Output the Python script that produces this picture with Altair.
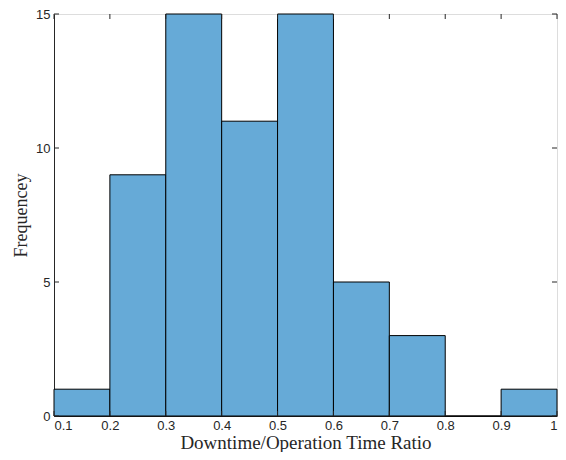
import altair as alt
import pandas as pd

bin_start = [0.1, 0.2, 0.3, 0.4, 0.5, 0.6, 0.7, 0.8, 0.9]
bin_end = [0.2, 0.3, 0.4, 0.5, 0.6, 0.7, 0.8, 0.9, 1.0]
counts = [1, 9, 15, 11, 15, 5, 3, 0, 1]
x_ticks = [0.1, 0.2, 0.3, 0.4, 0.5, 0.6, 0.7, 0.8, 0.9, 1.0]
y_ticks = [0, 5, 10, 15]

W, H = 503, 402
bars_df = pd.DataFrame({"start": bin_start, "end": bin_end, "count": counts})
xt_df = pd.DataFrame({"x": x_ticks})
yt_df = pd.DataFrame({"y": y_ticks})

xscale = alt.Scale(domain=[0.1, 1.0], nice=False, zero=False)
yscale = alt.Scale(domain=[0, 15], nice=False)

label_font = "Liberation Sans"
title_font = "Liberation Serif"
ink = "#262626"

bars = alt.Chart(bars_df).mark_rect(color="#66aad7", stroke="black", strokeWidth=1).encode(
    x=alt.X("start:Q", scale=xscale,
            axis=alt.Axis(values=x_ticks, format="~g", title="Downtime/Operation Time Ratio",
                          ticks=False, labelPadding=3, labelFont=label_font, labelFontSize=13,
                          labelColor=ink, titleFont=title_font, titleFontSize=19,
                          titleFontWeight="normal", titleColor=ink, titlePadding=1,
                          domainColor=ink, grid=False)),
    x2="end:Q",
    y=alt.Y("count:Q", scale=yscale,
            axis=alt.Axis(values=y_ticks, title="Frequencey", ticks=False, labelPadding=4,
                          labelFont=label_font, labelFontSize=13, labelColor=ink,
                          titleFont=title_font, titleFontSize=18, titleFontWeight="normal",
                          titleColor=ink, titlePadding=5, domainColor=ink, grid=False)),
    y2=alt.datum(0),
)

tick_len = 5
left_ticks = alt.Chart(yt_df).mark_rule(color=ink, strokeWidth=1).encode(
    y=alt.Y("y:Q", scale=yscale), x=alt.value(0), x2=alt.value(tick_len))
right_ticks = alt.Chart(yt_df).mark_rule(color=ink, strokeWidth=1).encode(
    y=alt.Y("y:Q", scale=yscale), x=alt.value(W - tick_len), x2=alt.value(W))
top_ticks = alt.Chart(xt_df).mark_rule(color=ink, strokeWidth=1).encode(
    x=alt.X("x:Q", scale=xscale), y=alt.value(0), y2=alt.value(tick_len))
bottom_ticks = alt.Chart(xt_df).mark_rule(color=ink, strokeWidth=1).encode(
    x=alt.X("x:Q", scale=xscale), y=alt.value(H - tick_len), y2=alt.value(H))

chart = alt.layer(bars, left_ticks, right_ticks, top_ticks, bottom_ticks).properties(
    width=W, height=H,
    autosize=alt.AutoSizeParams(type="none"),
    padding={"left": 46, "top": 6, "right": 1, "bottom": 36},
).configure_view(stroke=ink, strokeWidth=1).configure(background="white")

chart.save("out.html", embed_options={"renderer": "svg", "actions": False})
